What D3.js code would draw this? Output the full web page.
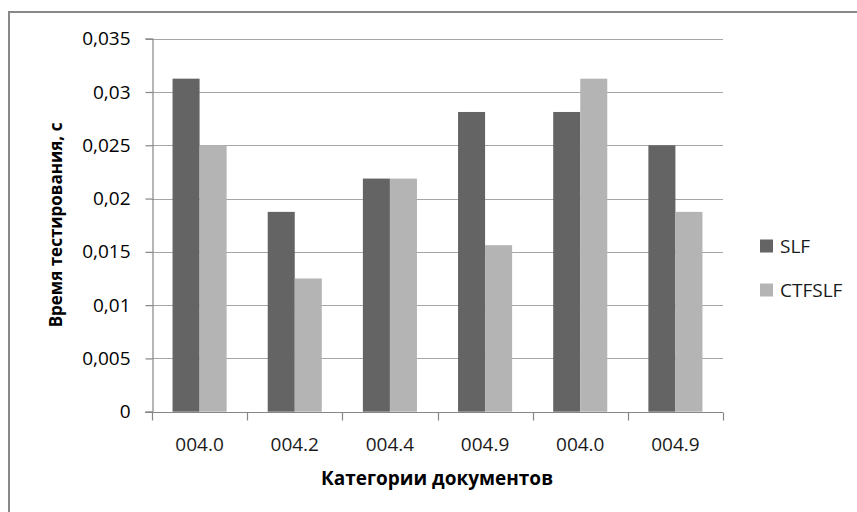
<!DOCTYPE html>
<html>
<head>
<meta charset="utf-8">
<script src="https://cdn.jsdelivr.net/npm/d3@7"></script>
<style>
  html, body { margin: 0; padding: 0; background: #fff; }
  svg { display: block; }
  text { font-family: "Open Sans", "DejaVu Sans", sans-serif; fill: #000; }
</style>
</head>
<body>
<svg id="chart" width="857" height="512"></svg>
<script>
// Document categories along the x axis (two labels repeat)
const categories = ["004.0", "004.2", "004.4", "004.9", "004.0", "004.9"];
const seriesNames = ["SLF", "CTFSLF"];
// Testing time, seconds
const slfValues = [0.03125, 0.01875, 0.021875, 0.028125, 0.028125, 0.025];
const ctfslfValues = [0.025, 0.0125, 0.021875, 0.015625, 0.03125, 0.01875];
const yTicks = [0, 0.005, 0.01, 0.015, 0.02, 0.025, 0.03, 0.035];
const yTickLabels = ["0", "0,005", "0,01", "0,015", "0,02", "0,025", "0,03", "0,035"];
const seriesColors = ["#646464", "#b4b4b4"];
const xTitle = "Категории документов";
const yTitle = "Время тестирования, с";

const series = [slfValues, ctfslfValues];

const svg = d3.select("#chart");

// outer chart frame
svg.append("rect")
  .attr("x", 9).attr("y", 12)
  .attr("width", 900).attr("height", 560)
  .attr("fill", "none")
  .attr("stroke", "#888")
  .attr("stroke-width", 2);

const plot = { left: 152, right: 723, top: 38.7, bottom: 411.7 };

const x = d3.scaleBand()
  .domain(d3.range(categories.length))
  .range([plot.left, plot.right])
  .padding(0);

const xInner = d3.scaleBand()
  .domain(d3.range(seriesNames.length))
  .range([0, x.bandwidth()])
  .paddingInner(0)
  .paddingOuter(0.76);

const y = d3.scaleLinear()
  .domain([0, 0.035])
  .range([plot.bottom, plot.top]);

// horizontal gridlines
svg.append("g")
  .selectAll("line")
  .data(yTicks.filter(d => d > 0))
  .join("line")
  .attr("x1", plot.left).attr("x2", plot.right)
  .attr("y1", d => Math.round(y(d)) + 0.5)
  .attr("y2", d => Math.round(y(d)) + 0.5)
  .attr("stroke", "#a6a6a6")
  .attr("stroke-width", 1.2);

// bars
const groups = svg.append("g")
  .selectAll("g")
  .data(categories.map((c, i) => i))
  .join("g")
  .attr("transform", i => `translate(${x(i)},0)`);

groups.selectAll("rect")
  .data(i => series.map((vals, s) => ({ s, v: vals[i] })))
  .join("rect")
  .attr("x", d => xInner(d.s))
  .attr("width", xInner.bandwidth())
  .attr("y", d => y(d.v))
  .attr("height", d => y(0) - y(d.v))
  .attr("fill", d => seriesColors[d.s]);

// y axis
const yAxis = d3.axisLeft(y)
  .tickValues(yTicks)
  .tickFormat((d, i) => yTickLabels[i])
  .tickSize(7)
  .tickPadding(15);

const yg = svg.append("g")
  .attr("transform", `translate(${plot.left + 0.5},0)`)
  .call(yAxis);
yg.select(".domain").attr("stroke", "#868686").attr("stroke-width", 1.2);
yg.selectAll(".tick line").attr("stroke", "#868686").attr("stroke-width", 1.2);
yg.selectAll(".tick text")
  .style("font-size", "19px")
  .attr("fill", "#1a1a1a");

// x axis with tick marks at category boundaries
const xAxisG = svg.append("g")
  .attr("transform", `translate(0,${Math.round(plot.bottom) + 0.5})`);
xAxisG.append("line")
  .attr("x1", plot.left - 7).attr("x2", plot.right)
  .attr("stroke", "#868686").attr("stroke-width", 1.2);
xAxisG.selectAll("line.tick")
  .data(d3.range(categories.length + 1))
  .join("line")
  .attr("class", "tick")
  .attr("x1", i => Math.round(plot.left + i * x.step()) + 0.5)
  .attr("x2", i => Math.round(plot.left + i * x.step()) + 0.5)
  .attr("y1", 0).attr("y2", 8)
  .attr("stroke", "#868686").attr("stroke-width", 1.2);
xAxisG.selectAll("text")
  .data(categories)
  .join("text")
  .attr("x", (d, i) => x(i) + x.bandwidth() / 2)
  .attr("y", 38)
  .attr("text-anchor", "middle")
  .style("font-size", "19px")
  .style("fill", "#1a1a1a")
  .text(d => d);

// axis titles
svg.append("text")
  .attr("x", 437)
  .attr("y", 485)
  .attr("text-anchor", "middle")
  .style("font-size", "19px")
  .style("font-weight", "bold")
  .text(xTitle);

svg.append("text")
  .attr("transform", `translate(62,225) rotate(-90)`)
  .attr("text-anchor", "middle")
  .style("font-size", "17px")
  .style("font-weight", "bold")
  .text(yTitle);

// legend
const legend = svg.append("g");
const legendItems = legend.selectAll("g")
  .data(seriesNames)
  .join("g")
  .attr("transform", (d, i) => `translate(760,${246 + i * 44})`);
legendItems.append("rect")
  .attr("x", 0).attr("y", -6.5)
  .attr("width", 13).attr("height", 13)
  .attr("fill", (d, i) => seriesColors[i]);
legendItems.append("text")
  .attr("x", 20)
  .attr("y", 0)
  .attr("dy", "0.35em")
  .style("font-size", "19px")
  .style("fill", "#1a1a1a")
  .text(d => d);
</script>
</body>
</html>
